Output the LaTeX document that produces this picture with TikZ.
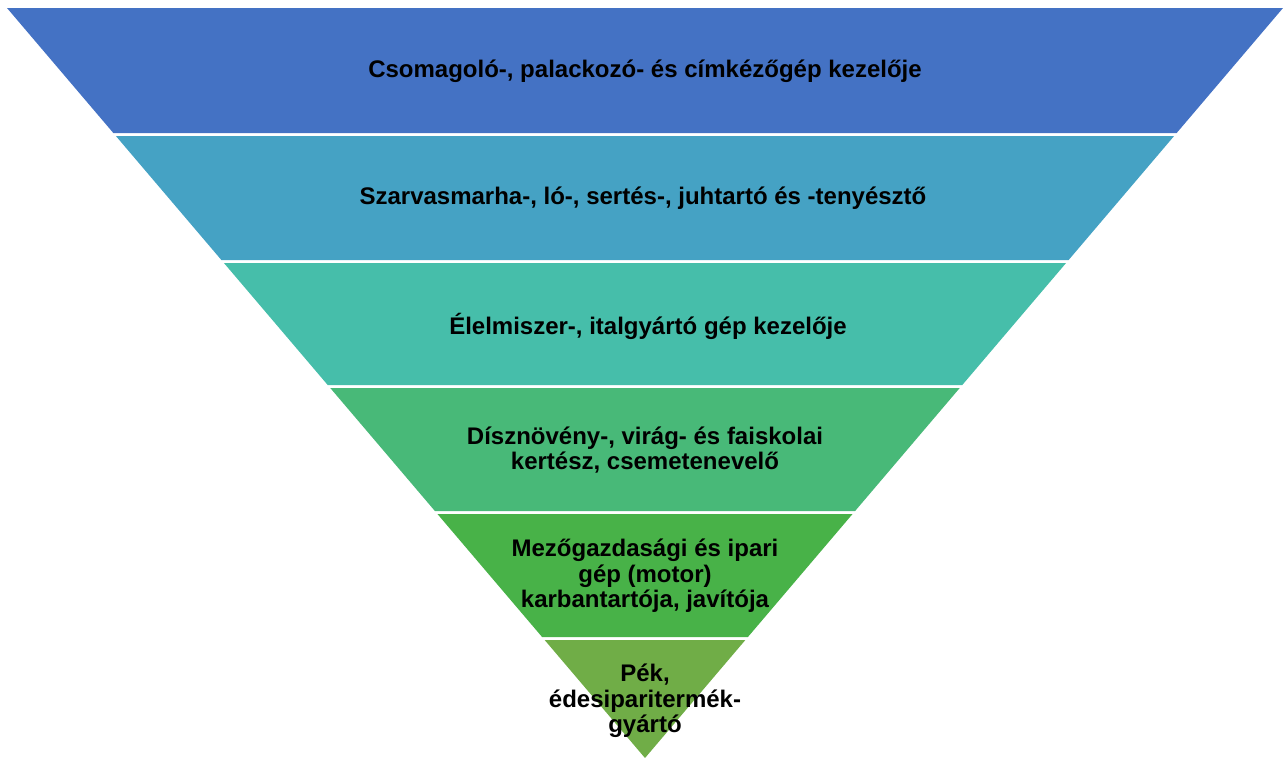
\documentclass[tikz,border=0pt]{standalone}
\usepackage{fontspec}
\setmainfont{Liberation Sans}
\definecolor{c1}{RGB}{68,114,196}
\definecolor{c2}{RGB}{69,162,196}
\definecolor{c3}{RGB}{70,190,170}
\definecolor{c4}{RGB}{72,185,120}
\definecolor{c5}{RGB}{72,178,72}
\definecolor{c6}{RGB}{112,173,71}
\newcommand\bandshape[3]{%
  \fill[#3] ({7+0.8507*(#1-8)},#1) -- ({1283-0.8507*(#1-8)},#1) --
    ({1283-0.8507*(#2-8)},#2) -- ({7+0.8507*(#2-8)},#2) -- cycle;}
\tikzset{lbl/.style={font=\fontsize{24}{25.5}\selectfont\bfseries, align=center, text=black, inner sep=0pt}}
\begin{document}
\begin{tikzpicture}[x=1pt,y=-1pt]
\useasboundingbox (0,0) rectangle (1283,758);
\bandshape{8}{133}{c1}
\bandshape{136}{260}{c2}
\bandshape{263}{385}{c3}
\bandshape{388}{511}{c4}
\bandshape{514}{637}{c5}
\fill[c6] ({7+0.8507*(640-8)},640) -- ({1283-0.8507*(640-8)},640) -- (645,758) -- cycle;
\node[lbl] (t1) at (645,71) {Csomagoló-, palackozó- és címkézőgép kezelője};
\node[lbl] (t2) at (643,198) {Szarvasmarha-, ló-, sertés-, juhtartó és -tenyésztő};
\node[lbl] (t3) at (648,326) {Élelmiszer-, italgyártó gép kezelője};
\node[lbl] (t4) at (645,450) {Dísznövény-, virág- és faiskolai\\kertész, csemetenevelő};
\node[lbl] (t5) at (645,576) {Mezőgazdasági és ipari\\gép (motor)\\karbantartója, javítója};
\node[lbl] (t6) at (645,701) {Pék,\\édesiparitermék-\\gyártó};
\end{tikzpicture}
\end{document}
